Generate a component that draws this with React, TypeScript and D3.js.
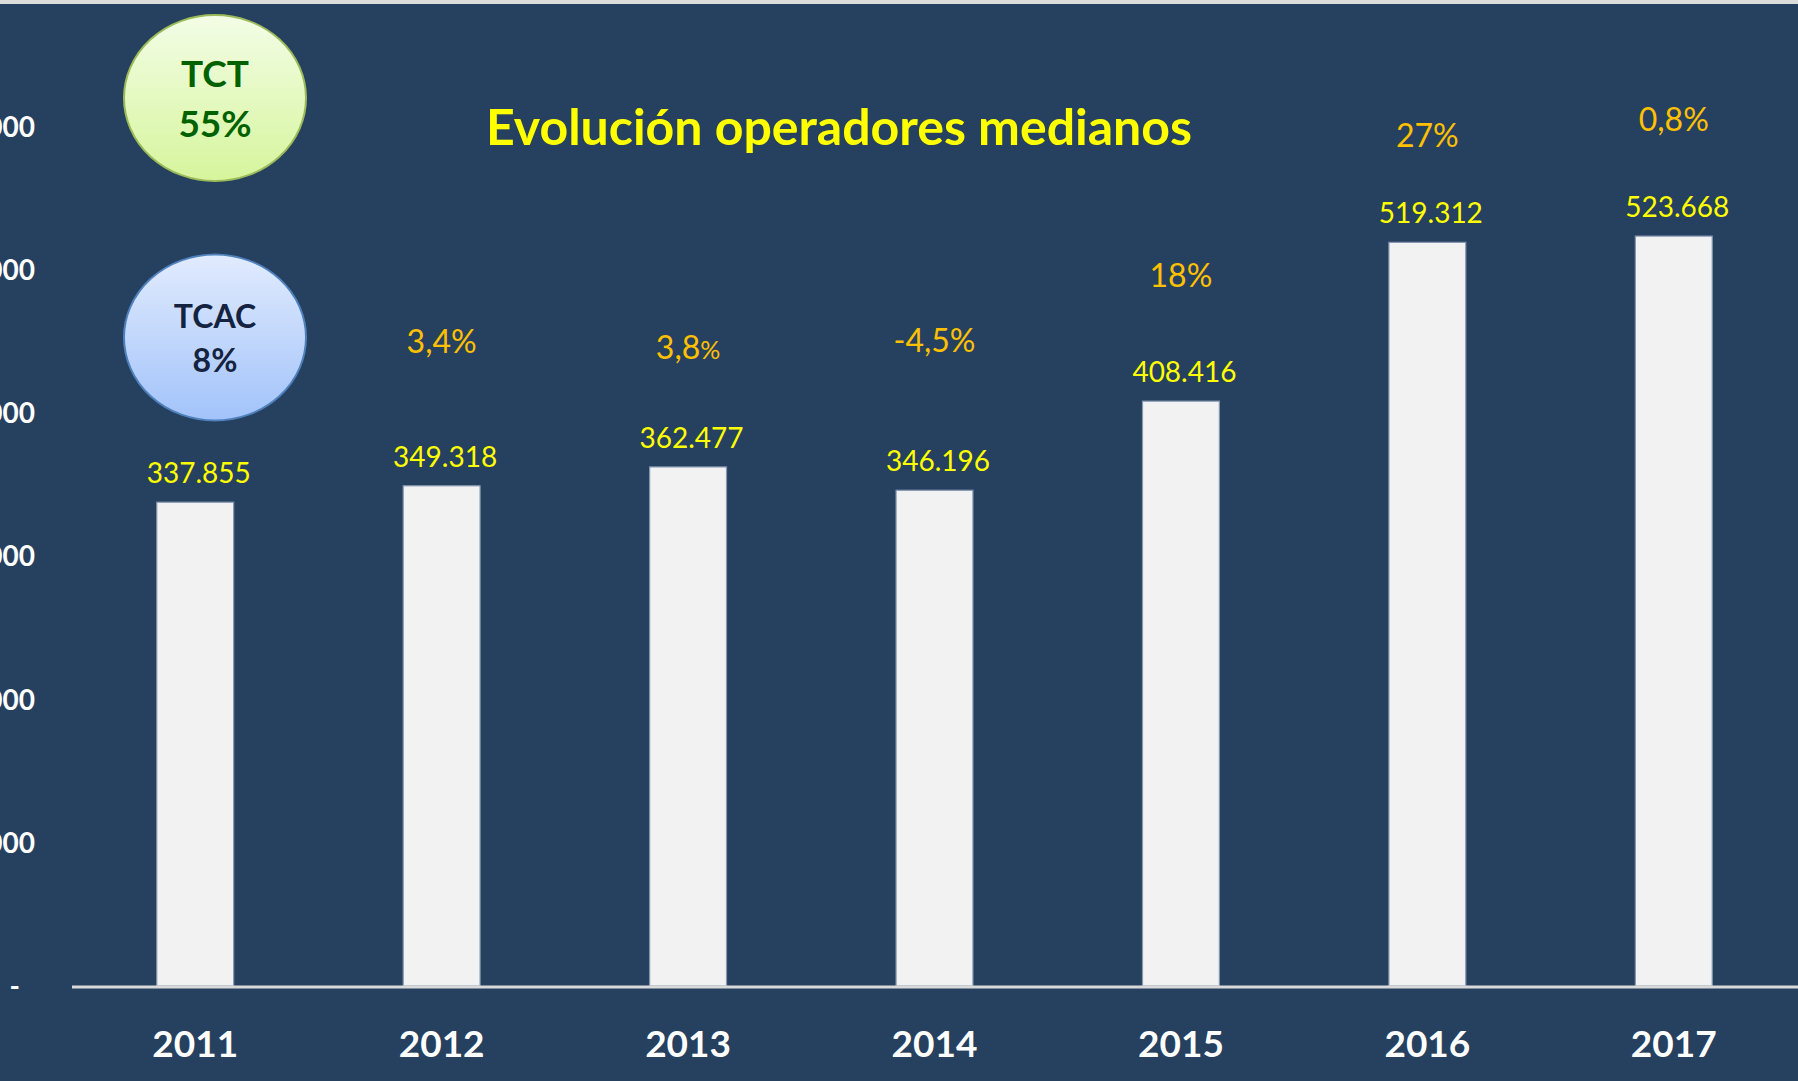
import React from 'react';
import * as d3 from 'd3';

// datos
const years = ['2011', '2012', '2013', '2014', '2015', '2016', '2017'];
const operadores = [337855, 349318, 362477, 346196, 408416, 519312, 523668];
const crecimiento = ['', '3,4', '3,8', '-4,5', '18', '27', '0,8'];
// nivel (en unidades del eje) donde se apoya cada etiqueta de crecimiento
const nivelCrecimiento = [0, 442000, 437800, 442700, 488100, 585900, 597100];
const yTicks = [0, 100000, 200000, 300000, 400000, 500000, 600000];
const titulo = 'Evolución operadores medianos';
const tct = ['TCT', '55%'];
const tcac = ['TCAC', '8%'];

const W = 1798;
const H = 1081;
const BG = '#26405F';
const FONT = 'Lato, "Open Sans", sans-serif';

const es = d3.formatLocale({ decimal: ',', thousands: '.', grouping: [3], currency: ['', '€'] });
const fmt = es.format(',d');

export default function App() {
  const baseY = 986;
  const x = d3.scaleBand<string>().domain(years).range([72, 1797]).paddingInner(0.688).paddingOuter(0.344);
  const y = d3.scaleLinear().domain([0, 600000]).range([baseY, baseY - 6 * 143.2]);
  const bw = x.bandwidth();
  const cx = (yr: string) => (x(yr) as number) + bw / 2;

  return (
    <div>
      <style>{`body{margin:0;background:#fff}`}</style>
      <svg width={W} height={H} style={{ display: 'block' }}>
        <rect x={0} y={0} width={W} height={H} fill={BG} />
        <rect x={0} y={0} width={W} height={4} fill="#DCDCDC" />

        <defs>
          <linearGradient id="gTct" x1="0" y1="0" x2="0" y2="1">
            <stop offset="0%" stopColor="#F3FDE6" />
            <stop offset="100%" stopColor="#D6F59C" />
          </linearGradient>
          <linearGradient id="gTcac" x1="0" y1="0" x2="0" y2="1">
            <stop offset="0%" stopColor="#E1EBFE" />
            <stop offset="100%" stopColor="#A2C3FA" />
          </linearGradient>
        </defs>

        {/* eje Y, cortado por la izquierda como en el original */}
        {yTicks.map(t => (
          <text key={t} x={t === 0 ? 20 : 35} y={y(t)} dy="0.36em" textAnchor="end"
            fill="#fff" fontFamily={FONT} fontWeight="bold" fontSize={28}>
            {t === 0 ? '-' : fmt(t)}
          </text>
        ))}

        {/* barras */}
        {operadores.map((v, i) => (
          <rect key={years[i]} x={x(years[i])} y={y(v)} width={bw} height={baseY - y(v)}
            fill="#F2F2F2" stroke="#8497B0" strokeWidth={1.2} />
        ))}

        <line x1={72} x2={W} y1={baseY + 1} y2={baseY + 1} stroke="#D9D9D9" strokeWidth={3} />

        {/* valores */}
        {operadores.map((v, i) => (
          <text key={'v' + i} x={cx(years[i]) + 3.5} y={y(v) - 19} textAnchor="middle"
            fill="#FFFF00" fontFamily={FONT} fontSize={28}>
            {fmt(v)}
          </text>
        ))}

        {/* crecimiento anual */}
        {crecimiento.map((c, i) => c && (
          <text key={'c' + i} x={cx(years[i])} y={y(nivelCrecimiento[i])} textAnchor="middle"
            fill="#FFC000" fontFamily={FONT} fontSize={32}>
            {c}<tspan fontSize={years[i] === '2013' ? 25 : 32}>%</tspan>
          </text>
        ))}

        {/* años */}
        {years.map(yr => (
          <text key={yr} x={cx(yr)} y={1057} textAnchor="middle"
            fill="#fff" fontFamily={FONT} fontWeight="bold" fontSize={37}>
            {yr}
          </text>
        ))}

        <text x={839} y={145} textAnchor="middle" fill="#FFFF00" fontFamily={FONT} fontWeight="bold" fontSize={50}>
          {titulo}
        </text>

        {/* burbujas */}
        <ellipse cx={215} cy={98} rx={91} ry={83} fill="url(#gTct)" stroke="#9BBB59" strokeWidth={2} />
        <text x={215} y={87} textAnchor="middle" fill="#006100" fontFamily={FONT} fontWeight="bold" fontSize={37}>{tct[0]}</text>
        <text x={215} y={137} textAnchor="middle" fill="#006100" fontFamily={FONT} fontWeight="bold" fontSize={37}>{tct[1]}</text>

        <ellipse cx={215} cy={337.5} rx={91} ry={83} fill="url(#gTcac)" stroke="#4F81BD" strokeWidth={2} />
        <text x={215} y={328} textAnchor="middle" fill="#14233F" fontFamily={FONT} fontWeight="bold" fontSize={32}>{tcac[0]}</text>
        <text x={215} y={372} textAnchor="middle" fill="#14233F" fontFamily={FONT} fontWeight="bold" fontSize={32}>{tcac[1]}</text>
      </svg>
    </div>
  );
}
